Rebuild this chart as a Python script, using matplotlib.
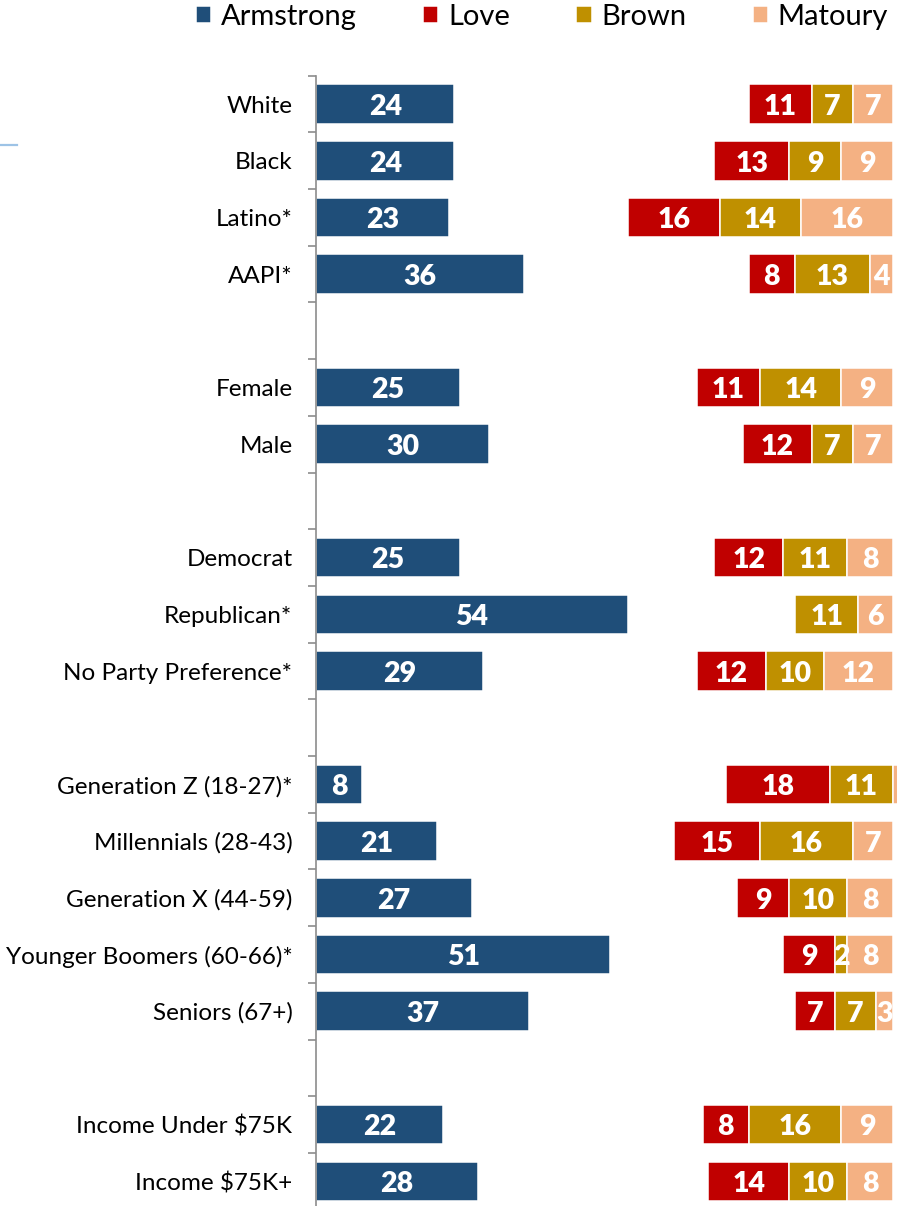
import numpy as np
import matplotlib
matplotlib.use("Agg")
import matplotlib.pyplot as plt
from matplotlib.lines import Line2D

plt.rcParams['font.family'] = ['Lato', 'DejaVu Sans']

categories = ["White", "Black", "Latino*", "AAPI*", "",
              "Female", "Male", "",
              "Democrat", "Republican*", "No Party Preference*", "",
              "Generation Z (18-27)*", "Millennials (28-43)", "Generation X (44-59)",
              "Younger Boomers (60-66)*", "Seniors (67+)", "",
              "Income Under $75K", "Income $75K+"]
armstrong = [24, 24, 23, 36, None, 25, 30, None, 25, 54, 29, None, 8, 21, 27, 51, 37, None, 22, 28]
undecided = [51, 45, 31, 39, None, 41, 44, None, 44, 29, 37, None, 63, 41, 46, 30, 46, None, 45, 40]
love      = [11, 13, 16, 8, None, 11, 12, None, 12, 0, 12, None, 18, 15, 9, 9, 7, None, 8, 14]
brown     = [7, 9, 14, 13, None, 14, 7, None, 11, 11, 10, None, 11, 16, 10, 2, 7, None, 16, 10]
matoury   = [7, 9, 16, 4, None, 9, 7, None, 8, 6, 12, None, 3, 7, 8, 8, 3, None, 9, 8]
series_names = ["Armstrong", "Love", "Brown", "Matoury"]
colors = ["#1F4E79", "#C00000", "#BF9000", "#F4B183"]

W, H = 897, 1206
fig = plt.figure(figsize=(W / 100, H / 100), dpi=100)
ax_left = 316 / W
ax_top = 75.7
ax_bottom = 1209.7
ax = fig.add_axes([ax_left, 1 - ax_bottom / H, 1 - ax_left, (ax_bottom - ax_top) / H])

xmax = (W - 316) / 5.77
ax.set_xlim(0, xmax)
n = len(categories)
ax.set_ylim(n - 0.5, -0.5)

idx = [i for i, a in enumerate(armstrong) if a is not None]
y = np.array(idx, dtype=float)
a = np.array([armstrong[i] for i in idx], dtype=float)
u = np.array([undecided[i] for i in idx], dtype=float)
l = np.array([love[i] for i in idx], dtype=float)
b = np.array([brown[i] for i in idx], dtype=float)
m = np.array([matoury[i] for i in idx], dtype=float)

h = 0.70
lw = 1.1
c0 = ax.barh(y, a, left=0, height=h, color=colors[0], edgecolor="white", linewidth=lw, label=series_names[0])
start = a + u
c1 = ax.barh(y, l, left=start, height=h, color=colors[1], edgecolor="white", linewidth=lw, label=series_names[1])
c2 = ax.barh(y, b, left=start + l, height=h, color=colors[2], edgecolor="white", linewidth=lw, label=series_names[2])
c3 = ax.barh(y, m, left=start + l + b, height=h, color=colors[3], edgecolor="white", linewidth=lw, label=series_names[3])

def labels_for(vals, lefts):
    out = []
    for v, lf in zip(vals, lefts):
        if v <= 0 or lf + v / 2 > xmax:
            out.append("")
        else:
            out.append(f"{int(v)}")
    return out

for cont, vals, lefts in [(c0, a, np.zeros_like(a)), (c1, l, start), (c2, b, start + l), (c3, m, start + l + b)]:
    texts = ax.bar_label(cont, labels=labels_for(vals, lefts), label_type="center",
                         color="white", fontweight="heavy", fontsize=20.5)
    for t in texts:
        t.xyann = (0, -2)

# axes styling
for s in ["top", "right", "bottom"]:
    ax.spines[s].set_visible(False)
ax.spines["left"].set_color("#8C8C8C")
ax.spines["left"].set_linewidth(1.2)
ax.set_xticks([])
ax.set_yticks(np.arange(-0.5, n, 1.0))
ax.set_yticklabels([])
ax.tick_params(axis="y", which="major", length=5.5, width=1.2, color="#8C8C8C", direction="out")
ax.set_yticks(np.arange(n), minor=True)
ax.set_yticklabels(categories, minor=True, fontsize=17.5, color="black")
ax.tick_params(axis="y", which="minor", length=0, pad=17)

leg = fig.legend(handles=[c0, c1, c2, c3], labels=series_names, loc="upper left",
                 bbox_to_anchor=(196 / W, 1 - 4 / H), ncol=4, frameon=False,
                 fontsize=21, handlelength=0.52, handleheight=0.52,
                 handletextpad=0.34, columnspacing=2.27, borderpad=0, borderaxespad=0)

# small stray line at left
fig.add_artist(Line2D([0, 17 / W], [1 - 145 / H, 1 - 145 / H], color="#9DC3E6", lw=1.6))

fig.savefig("out.png", dpi=100)
